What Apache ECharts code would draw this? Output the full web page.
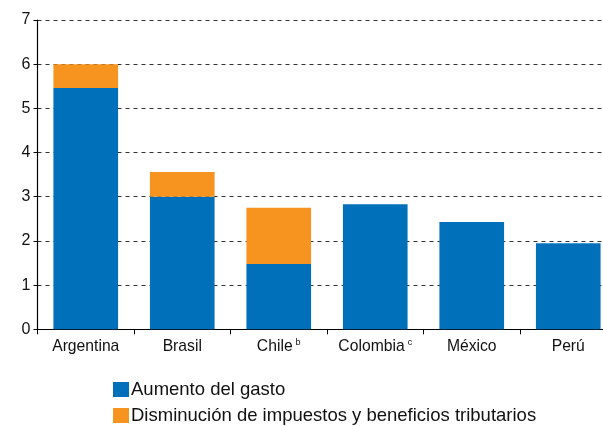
<!DOCTYPE html>
<html>
<head>
<meta charset="utf-8">
<script src="https://cdn.jsdelivr.net/npm/echarts@6/dist/echarts.min.js"></script>
<style>
  html, body { margin: 0; padding: 0; background: #fff; }
  #chart { width: 603px; height: 426px; }
</style>
</head>
<body>
<div id="chart"></div>
<script>
// Countries and their footnote marks
const categories = ['Argentina', 'Brasil', 'Chile', 'Colombia', 'México', 'Perú'];
const footnotes = ['', '', 'b', 'c', '', ''];

// Fiscal stimulus, % of GDP
const aumentoGasto = [5.46, 3.0, 1.48, 2.83, 2.43, 1.95];
const disminucionImpuestos = [0.54, 0.56, 1.27, 0, 0, 0];

const yTicks = [0, 1, 2, 3, 4, 5, 6, 7];

const chart = echarts.init(document.getElementById('chart'));
const fontFamily = '"Liberation Sans", Arial, Helvetica, sans-serif';

chart.setOption({
  animation: false,
  textStyle: { fontFamily },
  // the plot runs slightly past the right edge of the canvas
  grid: {
    left: 37.5, width: 579, top: 20, height: 309.3,
    containLabel: false, outerBoundsMode: 'none'
  },
  legend: {
    orient: 'vertical',
    left: 113,
    top: 380,
    padding: 0,
    itemWidth: 16,
    itemHeight: 15,
    itemGap: 7,
    icon: 'rect',
    textStyle: { fontSize: 18.5, color: '#111', fontFamily, padding: [0, 0, 0, -3] },
    data: ['Aumento del gasto', 'Disminución de impuestos y beneficios tributarios']
  },
  xAxis: {
    type: 'category',
    data: categories,
    axisLine: { lineStyle: { color: '#000', width: 1.2 } },
    axisTick: { show: true, length: 5, lineStyle: { color: '#000' } },
    axisLabel: {
      interval: 0,
      hideOverlap: false,
      fontSize: 15.7,
      color: '#111',
      margin: 9,
      formatter: (v, i) => footnotes[i] ? v + '{sup|' + footnotes[i] + '}' : v,
      rich: {
        sup: { fontSize: 9, verticalAlign: 'top', padding: [0, 0, 8, 3], color: '#111' }
      }
    }
  },
  yAxis: {
    type: 'value',
    min: yTicks[0],
    max: yTicks[yTicks.length - 1],
    interval: 1,
    axisLine: { show: true, lineStyle: { color: '#000', width: 1.2 } },
    axisTick: { show: true, length: 4, lineStyle: { color: '#000' } },
    axisLabel: { fontSize: 16, color: '#111', margin: 7 },
    splitLine: { lineStyle: { color: '#333', type: [4, 4], width: 1 } }
  },
  series: [
    {
      name: 'Aumento del gasto',
      type: 'bar',
      stack: 'total',
      barWidth: '67%',
      itemStyle: { color: '#0070BB' },
      data: aumentoGasto
    },
    {
      name: 'Disminución de impuestos y beneficios tributarios',
      type: 'bar',
      stack: 'total',
      barWidth: '67%',
      itemStyle: { color: '#F7941F' },
      data: disminucionImpuestos
    }
  ]
});
</script>
</body>
</html>
